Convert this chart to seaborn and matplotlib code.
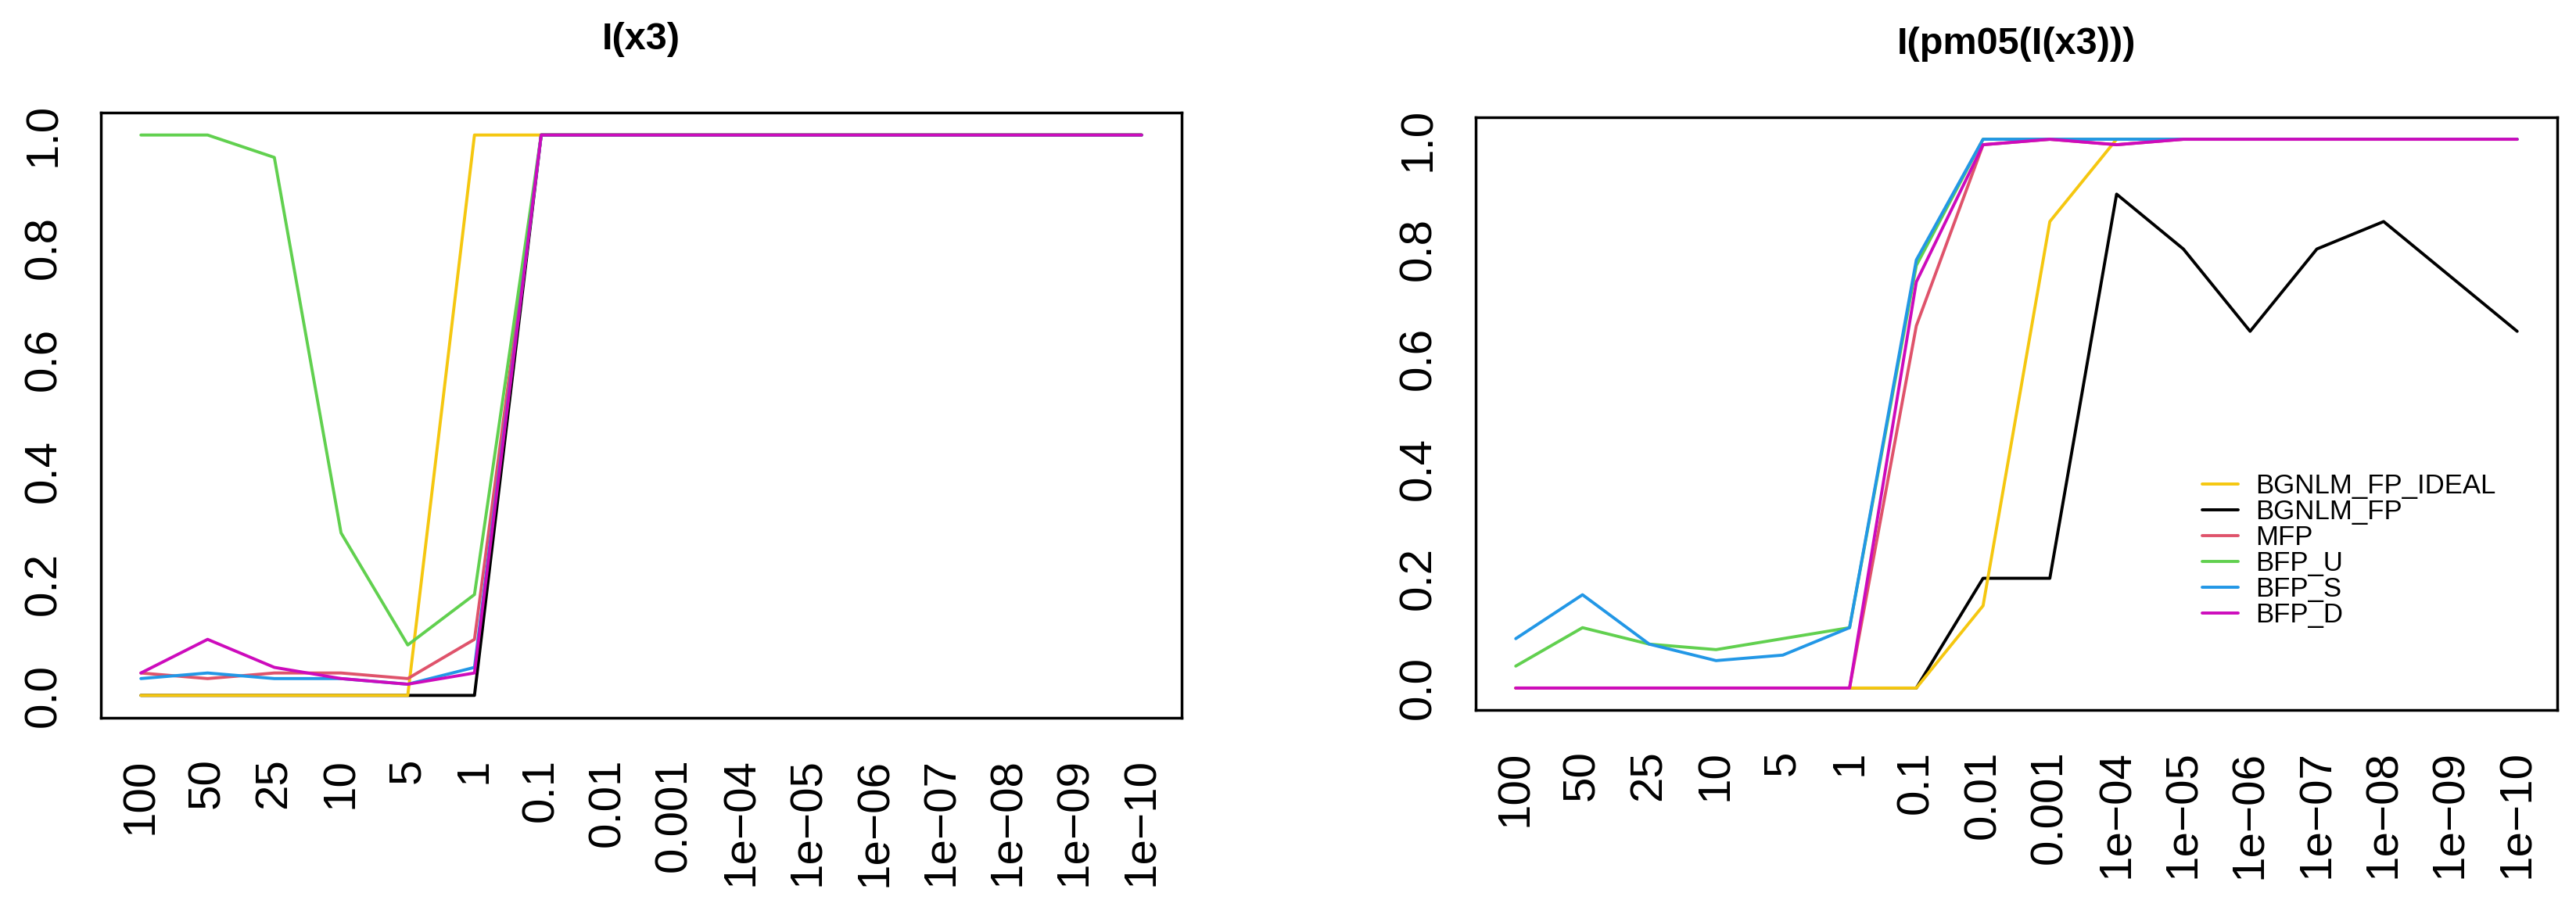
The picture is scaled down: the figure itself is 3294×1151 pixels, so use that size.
import matplotlib
matplotlib.use("Agg")
import matplotlib.pyplot as plt
import seaborn as sns
import pandas as pd
import numpy as np

# x categories (as printed on the axis)
x_labels = ["100", "50", "25", "10", "5", "1", "0.1", "0.01", "0.001",
            "1e\u221204", "1e\u221205", "1e\u221206", "1e\u221207",
            "1e\u221208", "1e\u221209", "1e\u221210"]

methods = ["BGNLM_FP_IDEAL", "BGNLM_FP", "MFP", "BFP_U", "BFP_S", "BFP_D"]
colors = ["#F5C710", "#000000", "#DF536B", "#61D04F", "#2297E6", "#CD0BBC"]
draw_order = ["BGNLM_FP", "BGNLM_FP_IDEAL", "MFP", "BFP_U", "BFP_S", "BFP_D"]

titles = ["I(x3)", "I(pm05(I(x3)))"]

# left panel: I(x3)
x3_ideal = [0, 0, 0, 0, 0, 1, 1, 1, 1, 1, 1, 1, 1, 1, 1, 1]
x3_fp = [0, 0, 0, 0, 0, 0, 1, 1, 1, 1, 1, 1, 1, 1, 1, 1]
x3_mfp = [0.04, 0.03, 0.04, 0.04, 0.03, 0.10, 1, 1, 1, 1, 1, 1, 1, 1, 1, 1]
x3_bfp_u = [1.0, 1.0, 0.96, 0.29, 0.09, 0.18, 1, 1, 1, 1, 1, 1, 1, 1, 1, 1]
x3_bfp_s = [0.03, 0.04, 0.03, 0.03, 0.02, 0.05, 1, 1, 1, 1, 1, 1, 1, 1, 1, 1]
x3_bfp_d = [0.04, 0.10, 0.05, 0.03, 0.02, 0.04, 1, 1, 1, 1, 1, 1, 1, 1, 1, 1]

# right panel: I(pm05(I(x3)))
pm_ideal = [0, 0, 0, 0, 0, 0, 0, 0.15, 0.85, 1, 1, 1, 1, 1, 1, 1]
pm_fp = [0, 0, 0, 0, 0, 0, 0, 0.20, 0.20, 0.90, 0.80, 0.65, 0.80, 0.85, 0.75, 0.65]
pm_mfp = [0, 0, 0, 0, 0, 0, 0.66, 0.99, 1, 0.99, 1, 1, 1, 1, 1, 1]
pm_bfp_u = [0.04, 0.11, 0.08, 0.07, 0.09, 0.11, 0.77, 1, 1, 1, 1, 1, 1, 1, 1, 1]
pm_bfp_s = [0.09, 0.17, 0.08, 0.05, 0.06, 0.11, 0.78, 1, 1, 1, 1, 1, 1, 1, 1, 1]
pm_bfp_d = [0, 0, 0, 0, 0, 0, 0.74, 0.99, 1, 0.99, 1, 1, 1, 1, 1, 1]

panels = [
    [x3_ideal, x3_fp, x3_mfp, x3_bfp_u, x3_bfp_s, x3_bfp_d],
    [pm_ideal, pm_fp, pm_mfp, pm_bfp_u, pm_bfp_s, pm_bfp_d],
]

sns.set_theme(style="white")
plt.rcParams["font.family"] = ["Liberation Sans", "DejaVu Sans"]
plt.rcParams["text.color"] = "black"

fig = plt.figure(figsize=(32.94, 11.51), dpi=100)
ax_left = fig.add_axes([0.03916, 0.20243, 0.41955, 0.67246])
ax_right = fig.add_axes([0.57286, 0.21112, 0.41985, 0.65856])
axes = [ax_left, ax_right]

palette = dict(zip(methods, colors))
pos = np.arange(1, len(x_labels) + 1)

for ax, series, title in zip(axes, panels, titles):
    df = pd.DataFrame({m: s for m, s in zip(methods, series)})
    df["pos"] = pos
    long = df.melt(id_vars="pos", var_name="method", value_name="value")
    for m in draw_order:
        sns.lineplot(data=long[long["method"] == m], x="pos", y="value",
                     color=palette[m], linewidth=2.8, label=m, ax=ax)

    ax.set_xlim(0.4, 16.6)
    ax.set_ylim(-0.04, 1.04)
    ax.set_xticks(pos)
    ax.set_xticklabels(x_labels, rotation=90, ha="center", va="top")
    ax.set_yticks([0.0, 0.2, 0.4, 0.6, 0.8, 1.0])
    ax.set_yticklabels(["0.0", "0.2", "0.4", "0.6", "0.8", "1.0"],
                       rotation=90, va="center")
    ax.tick_params(axis="both", direction="out", length=17, width=2.3,
                   labelsize=42, color="black", labelcolor="black")
    ax.tick_params(axis="y", pad=16)
    ax.tick_params(axis="x", pad=20)
    ax.set_xlabel("")
    ax.set_ylabel("")
    for sp in ax.spines.values():
        sp.set_visible(True)
        sp.set_color("black")
        sp.set_linewidth(2.5)
    ax.set_title(title, fontsize=35, fontweight="bold", pad=58, color="black")
    ax.grid(False)

ax_left.get_legend().remove()

handles, labels = ax_right.get_legend_handles_labels()
lookup = dict(zip(labels, handles))
leg = ax_right.legend([lookup[m] for m in methods], methods,
                      loc="upper left", bbox_to_anchor=(0.8549, 0.4744),
                      bbox_transform=fig.transFigure, frameon=False,
                      fontsize=25, handlelength=1.33, handletextpad=0.63,
                      labelspacing=0.0, borderpad=0, borderaxespad=0)
for t in leg.get_texts():
    t.set_color("black")

fig.savefig("out.png", dpi=100, facecolor="white")
